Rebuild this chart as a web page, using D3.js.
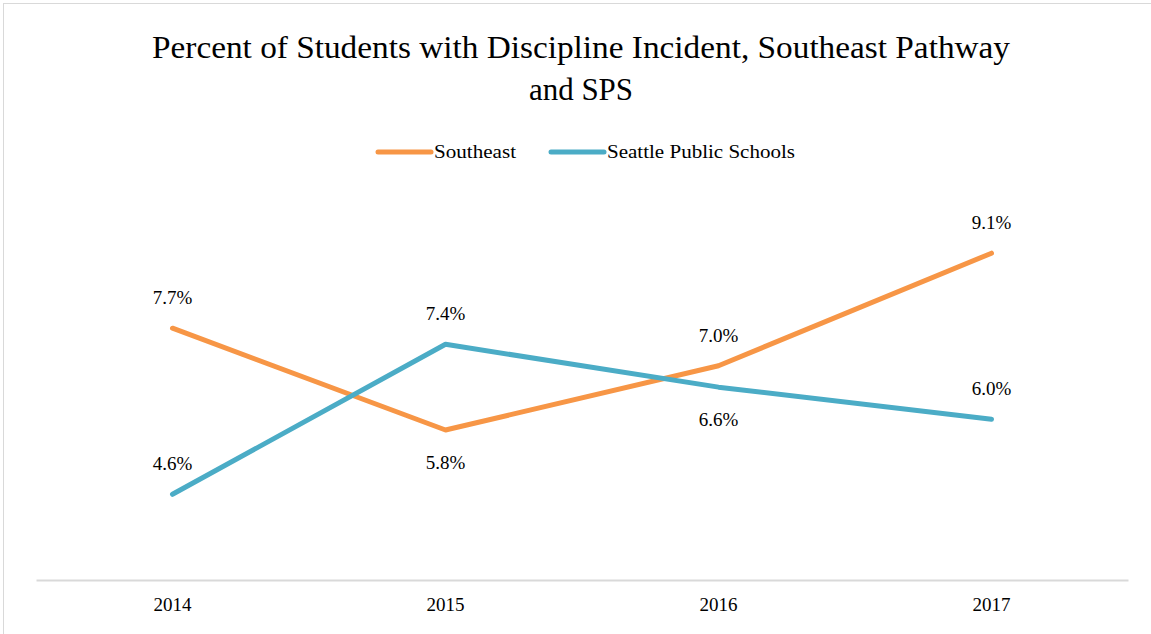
<!DOCTYPE html>
<html><head><meta charset="utf-8">
<script src="https://cdn.jsdelivr.net/npm/d3@7"></script>
<style>html,body{margin:0;padding:0;background:#fff;}svg{display:block;} text{font-family:"Liberation Serif","DejaVu Serif","Times New Roman",serif;}</style>
</head><body>
<script>
const categories = ["2014", "2015", "2016", "2017"];
const southeast = [7.7, 5.8, 7.0, 9.1];
const sps = [4.6, 7.4, 6.6, 6.0];
const seriesNames = ["Southeast", "Seattle Public Schools"];
const labelPos = [["above","below","above","above"],["above","above","below","above"]];
const titleLines = ["Percent of Students with Discipline Incident, Southeast Pathway", "and SPS"];

const W = 1151, H = 634;
const colors = ["#F79646", "#4BACC6"];

const svg = d3.select("body").append("svg").attr("width", W).attr("height", H);
svg.append("rect").attr("x", 3.5).attr("y", 3.5).attr("width", 1300).attr("height", 800)
  .attr("fill", "#fff").attr("stroke", "#d9d9d9").attr("stroke-width", 1);

const x = d3.scaleBand().domain(categories).range([36, 1128]);
const y = d3.scaleLinear().domain([3, 10]).range([580, 205]);

// title
svg.append("text").attr("x", 581).attr("y", 58).attr("text-anchor", "middle")
  .attr("font-size", 31).attr("fill", "#000")
  .attr("textLength", 858).attr("lengthAdjust", "spacingAndGlyphs").text(titleLines[0]);
svg.append("text").attr("x", 581).attr("y", 100).attr("text-anchor", "middle")
  .attr("font-size", 31).attr("fill", "#000")
  .attr("textLength", 104).attr("lengthAdjust", "spacingAndGlyphs").text(titleLines[1]);

// legend
const legend = [{x1: 378, x2: 431, tx: 434, tl: 82}, {x1: 551, x2: 604, tx: 607, tl: 188}];
legend.forEach((l, i) => {
  svg.append("line").attr("x1", l.x1).attr("x2", l.x2).attr("y1", 152).attr("y2", 152)
    .attr("stroke", colors[i]).attr("stroke-width", 5).attr("stroke-linecap", "round");
  svg.append("text").attr("x", l.tx).attr("y", 158).attr("font-size", 19)
    .attr("textLength", l.tl).attr("lengthAdjust", "spacingAndGlyphs").text(seriesNames[i]);
});

// x axis
const xAxis = d3.axisBottom(x).tickSize(0).tickPadding(18);
const gx = svg.append("g").attr("transform", `translate(0,${y(3)})`).call(xAxis);
gx.attr("font-family", null);
gx.select(".domain").attr("stroke", "#d9d9d9").attr("stroke-width", 2);
gx.selectAll("text").attr("font-size", 19).attr("fill", "#000");

const line = d3.line().x((d, i) => x(categories[i]) + x.bandwidth() / 2).y(d => y(d));
[southeast, sps].forEach((s, si) => {
  svg.append("path").datum(s).attr("d", line).attr("fill", "none")
    .attr("stroke", colors[si]).attr("stroke-width", 5)
    .attr("stroke-linecap", "round").attr("stroke-linejoin", "round");
  svg.selectAll(null).data(s).enter().append("text")
    .attr("x", (d, i) => x(categories[i]) + x.bandwidth() / 2)
    .attr("y", (d, i) => y(d) + (labelPos[si][i] === "above" ? -24 : 39))
    .attr("text-anchor", "middle").attr("font-size", 19).attr("fill", "#000")
    .text(d => d.toFixed(1) + "%");
});
</script>
</body></html>
